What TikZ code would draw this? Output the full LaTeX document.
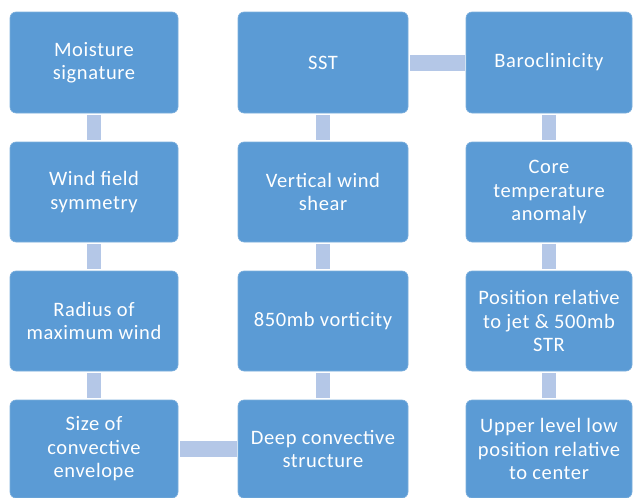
\documentclass[tikz,border=0pt]{standalone}
\usepackage{fontspec}
\setmainfont[LetterSpace=3]{Carlito}
\definecolor{boxblue}{HTML}{5B9BD5}
\definecolor{connblue}{HTML}{B4C7E7}
\begin{document}
\begin{tikzpicture}[x=1pt,y=-1pt,
  box/.style={draw=boxblue!80!white, line width=0.6pt, fill=boxblue, rounded corners=6pt, text=white,
    align=center, inner sep=0pt, font=\fontsize{20.5}{23.5}\selectfont},
  vconn/.style={draw=connblue, line width=14pt, shorten <=2pt, shorten >=2pt},
  hconn/.style={draw=connblue, line width=16pt, shorten <=2pt, shorten >=1pt}]
\useasboundingbox (0,0) rectangle (633,498);
% column x ranges: 10-178, 238-408, 466-632 ; rows: 12-113, 142-242, 271-371, 400-497
\newcommand{\mybox}[6]{\node[box, minimum width=#3-#2, minimum height=#5-#4] (#1) at ({(#2+#3)/2},{(#4+#5)/2}) {#6};}
\mybox{moist}{10}{178}{12}{113}{Moisture\\signature}
\mybox{wind}{10}{178}{142}{242}{Wind field\\symmetry}
\mybox{rmw}{10}{178}{271}{371}{Radius of\\maximum wind}
\mybox{size}{10}{178}{400}{498}{Size of\\convective\\envelope}
\mybox{sst}{238}{408}{12}{113}{SST}
\mybox{shear}{238}{408}{142}{242}{Vertical wind\\shear}
\mybox{vort}{238}{408}{271}{371}{850mb vorticity}
\mybox{deep}{238}{408}{400}{498}{Deep convective\\structure}
\mybox{baro}{466}{632}{12}{113}{Baroclinicity}
\mybox{core}{466}{632}{142}{242}{Core\\temperature\\anomaly}
\mybox{pos}{466}{632}{271}{371}{Position relative\\to jet \& 500mb\\STR}
\mybox{upper}{466}{632}{400}{498}{Upper level low\\position relative\\to center}
\draw[vconn] (moist) -- (wind);
\draw[vconn] (wind) -- (rmw);
\draw[vconn] (rmw) -- (size);
\draw[vconn] (sst) -- (shear);
\draw[vconn] (shear) -- (vort);
\draw[vconn] (vort) -- (deep);
\draw[vconn] (baro) -- (core);
\draw[vconn] (core) -- (pos);
\draw[vconn] (pos) -- (upper);
\draw[hconn] (sst) -- (baro);
\draw[hconn] (size) -- (deep);
\end{tikzpicture}
\end{document}
